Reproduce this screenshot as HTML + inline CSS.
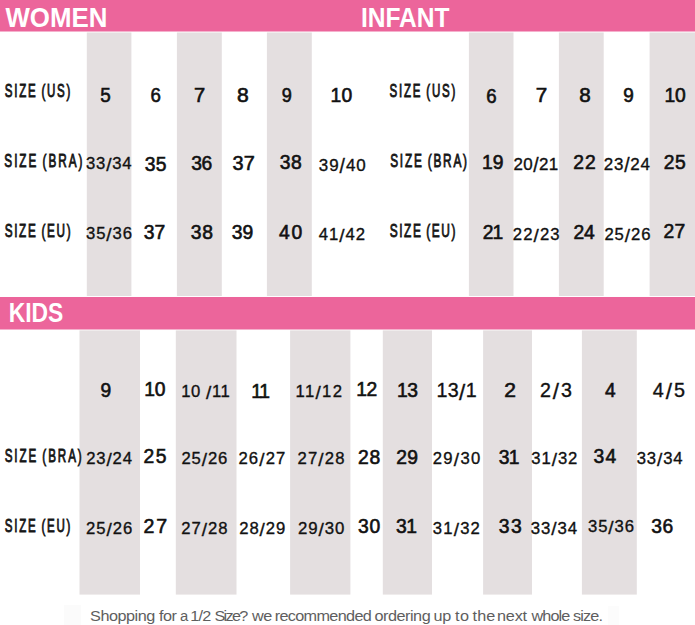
<!DOCTYPE html>
<html><head><meta charset="utf-8"><title>Size Chart</title>
<style>
html,body{margin:0;padding:0;background:#fff;width:695px;height:625px;overflow:hidden}
svg{display:block}
text{font-family:"Liberation Sans",Arial,sans-serif;white-space:pre}
.h{font-weight:bold;fill:#fff}
.l{fill:#161616;stroke:#161616;word-spacing:-1.5px}
.n{fill:#111;stroke:#111}
.f{fill:#5e5e5e}
</style></head><body>
<svg width="695" height="625" viewBox="0 0 695 625">
<rect x="0" y="0" width="695" height="31.5" fill="#ec659b"/>
<rect x="0" y="297" width="695" height="32.5" fill="#ec659b"/>
<rect x="86.8" y="32.5" width="44.6" height="263.5" fill="#e4dfe0"/>
<rect x="176.9" y="32.5" width="44.9" height="263.5" fill="#e4dfe0"/>
<rect x="266.9" y="32.5" width="44.9" height="263.5" fill="#e4dfe0"/>
<rect x="468.9" y="32.5" width="44.6" height="263.5" fill="#e4dfe0"/>
<rect x="558.9" y="32.5" width="44.8" height="263.5" fill="#e4dfe0"/>
<rect x="649.6" y="32.5" width="45.4" height="263.5" fill="#e4dfe0"/>
<rect x="79.5" y="330.4" width="60.5" height="264.2" fill="#e4dfe0"/>
<rect x="175.8" y="330.4" width="60.7" height="264.2" fill="#e4dfe0"/>
<rect x="290.1" y="330.4" width="60.3" height="264.2" fill="#e4dfe0"/>
<rect x="382.8" y="330.4" width="49.2" height="264.2" fill="#e4dfe0"/>
<rect x="483.1" y="330.4" width="48.9" height="264.2" fill="#e4dfe0"/>
<rect x="581.9" y="330.4" width="54.9" height="264.2" fill="#e4dfe0"/>
<rect x="64" y="605" width="17" height="20" fill="#fbfbfb"/>
<rect x="608" y="606" width="11" height="19" fill="#fcfcfc"/>
<text class="h" x="5.47" y="26.80" font-size="27.83" textLength="101.98" lengthAdjust="spacingAndGlyphs">WOMEN</text>
<text class="h" x="360.88" y="26.80" font-size="27.54" textLength="88.68" lengthAdjust="spacingAndGlyphs">INFANT</text>
<text class="h" x="8.70" y="322.00" font-size="27.54" textLength="54.68" lengthAdjust="spacingAndGlyphs">KIDS</text>
<text class="l" transform="matrix(0.66,0,0,1,4.84,97.12)" font-size="17.48" textLength="99.32" lengthAdjust="spacing" stroke-width="0.75" vector-effect="non-scaling-stroke">SIZE (US)</text>
<text class="l" transform="matrix(0.66,0,0,1,389.61,96.92)" font-size="17.48" textLength="99.55" lengthAdjust="spacing" stroke-width="0.75" vector-effect="non-scaling-stroke">SIZE (US)</text>
<text class="l" transform="matrix(0.66,0,0,1,4.35,166.93)" font-size="17.77" textLength="118.21" lengthAdjust="spacing" stroke-width="0.75" vector-effect="non-scaling-stroke">SIZE (BRA)</text>
<text class="l" transform="matrix(0.66,0,0,1,390.13,166.82)" font-size="17.91" textLength="116.55" lengthAdjust="spacing" stroke-width="0.75" vector-effect="non-scaling-stroke">SIZE (BRA)</text>
<text class="l" transform="matrix(0.66,0,0,1,4.65,236.93)" font-size="17.77" textLength="99.87" lengthAdjust="spacing" stroke-width="0.75" vector-effect="non-scaling-stroke">SIZE (EU)</text>
<text class="l" transform="matrix(0.66,0,0,1,389.72,236.93)" font-size="18.06" textLength="99.71" lengthAdjust="spacing" stroke-width="0.75" vector-effect="non-scaling-stroke">SIZE (EU)</text>
<text class="l" transform="matrix(0.66,0,0,1,4.65,461.52)" font-size="17.63" textLength="116.77" lengthAdjust="spacing" stroke-width="0.75" vector-effect="non-scaling-stroke">SIZE (BRA)</text>
<text class="l" transform="matrix(0.66,0,0,1,4.84,531.73)" font-size="17.48" textLength="99.32" lengthAdjust="spacing" stroke-width="0.75" vector-effect="non-scaling-stroke">SIZE (EU)</text>
<text class="n" x="100.26" y="102.10" font-size="19.43" textLength="10.51" lengthAdjust="spacingAndGlyphs" stroke-width="0.6">5</text>
<text class="n" x="150.52" y="101.80" font-size="19.43" textLength="10.40" lengthAdjust="spacingAndGlyphs" stroke-width="0.6">6</text>
<text class="n" x="194.14" y="102.20" font-size="19.29" textLength="11.18" lengthAdjust="spacingAndGlyphs" stroke-width="0.6">7</text>
<text class="n" x="237.00" y="101.80" font-size="19.43" textLength="11.74" lengthAdjust="spacingAndGlyphs" stroke-width="0.6">8</text>
<text class="n" x="281.72" y="101.76" font-size="19.29" textLength="10.07" lengthAdjust="spacingAndGlyphs" stroke-width="0.6">9</text>
<text class="n" x="330.38" y="101.62" font-size="19.29" textLength="21.95" lengthAdjust="spacing" stroke-width="0.6">10</text>
<text class="n" x="486.14" y="102.53" font-size="19.29" textLength="10.37" lengthAdjust="spacingAndGlyphs" stroke-width="0.6">6</text>
<text class="n" x="535.76" y="101.80" font-size="19.43" textLength="11.47" lengthAdjust="spacingAndGlyphs" stroke-width="0.6">7</text>
<text class="n" x="579.29" y="102.10" font-size="19.43" textLength="11.47" lengthAdjust="spacingAndGlyphs" stroke-width="0.6">8</text>
<text class="n" x="623.20" y="101.92" font-size="19.29" textLength="10.55" lengthAdjust="spacingAndGlyphs" stroke-width="0.6">9</text>
<text class="n" x="664.62" y="102.13" font-size="19.29" textLength="21.16" lengthAdjust="spacing" stroke-width="0.6">10</text>
<text class="n" x="86.08" y="168.75" font-size="16.67" textLength="45.40" lengthAdjust="spacing" stroke-width="0.35">33<tspan font-size="19.00" dy="1.92">/</tspan><tspan dy="-1.92">34</tspan></text>
<text class="n" x="144.77" y="170.58" font-size="19.29" textLength="21.64" lengthAdjust="spacing" stroke-width="0.6">35</text>
<text class="n" x="191.29" y="170.40" font-size="19.29" textLength="20.94" lengthAdjust="spacing" stroke-width="0.6">36</text>
<text class="n" x="232.53" y="169.70" font-size="19.86" textLength="22.28" lengthAdjust="spacing" stroke-width="0.6">37</text>
<text class="n" x="279.77" y="169.25" font-size="19.29" textLength="21.84" lengthAdjust="spacing" stroke-width="0.6">38</text>
<text class="n" x="318.82" y="170.62" font-size="16.95" textLength="46.87" lengthAdjust="spacing" stroke-width="0.35">39<tspan font-size="19.32" dy="1.95">/</tspan><tspan dy="-1.95">40</tspan></text>
<text class="n" x="481.92" y="169.49" font-size="19.29" textLength="21.63" lengthAdjust="spacing" stroke-width="0.6">19</text>
<text class="n" x="513.57" y="169.62" font-size="16.95" textLength="44.57" lengthAdjust="spacing" stroke-width="0.35">20<tspan font-size="19.32" dy="1.95">/</tspan><tspan dy="-1.95">21</tspan></text>
<text class="n" x="573.19" y="169.33" font-size="19.29" textLength="22.65" lengthAdjust="spacing" stroke-width="0.6">22</text>
<text class="n" x="603.81" y="169.62" font-size="16.95" textLength="46.07" lengthAdjust="spacing" stroke-width="0.35">23<tspan font-size="19.32" dy="1.95">/</tspan><tspan dy="-1.95">24</tspan></text>
<text class="n" x="663.66" y="169.33" font-size="19.29" textLength="22.19" lengthAdjust="spacing" stroke-width="0.6">25</text>
<text class="n" x="86.08" y="238.67" font-size="16.67" textLength="45.86" lengthAdjust="spacing" stroke-width="0.35">35<tspan font-size="19.00" dy="1.92">/</tspan><tspan dy="-1.92">36</tspan></text>
<text class="n" x="143.79" y="238.91" font-size="19.29" textLength="21.43" lengthAdjust="spacing" stroke-width="0.6">37</text>
<text class="n" x="190.77" y="239.46" font-size="19.29" textLength="22.13" lengthAdjust="spacing" stroke-width="0.6">38</text>
<text class="n" x="231.77" y="239.46" font-size="19.29" textLength="21.39" lengthAdjust="spacing" stroke-width="0.6">39</text>
<text class="n" x="278.96" y="239.23" font-size="19.29" textLength="23.37" lengthAdjust="spacing" stroke-width="0.6">40</text>
<text class="n" x="318.63" y="239.64" font-size="16.67" textLength="46.44" lengthAdjust="spacing" stroke-width="0.35">41<tspan font-size="19.00" dy="1.92">/</tspan><tspan dy="-1.92">42</tspan></text>
<text class="n" x="482.70" y="239.28" font-size="19.29" textLength="20.59" lengthAdjust="spacing" stroke-width="0.6">21</text>
<text class="n" x="512.76" y="239.72" font-size="16.67" textLength="46.77" lengthAdjust="spacing" stroke-width="0.35">22<tspan font-size="19.00" dy="1.92">/</tspan><tspan dy="-1.92">23</tspan></text>
<text class="n" x="573.42" y="239.18" font-size="19.29" textLength="21.28" lengthAdjust="spacing" stroke-width="0.6">24</text>
<text class="n" x="604.39" y="239.79" font-size="16.67" textLength="46.07" lengthAdjust="spacing" stroke-width="0.35">25<tspan font-size="19.00" dy="1.92">/</tspan><tspan dy="-1.92">26</tspan></text>
<text class="n" x="663.38" y="238.43" font-size="19.29" textLength="21.88" lengthAdjust="spacing" stroke-width="0.6">27</text>
<text class="n" x="100.41" y="397.01" font-size="19.29" textLength="10.69" lengthAdjust="spacingAndGlyphs" stroke-width="0.6">9</text>
<text class="n" x="144.20" y="396.42" font-size="19.29" textLength="21.32" lengthAdjust="spacing" stroke-width="0.6">10</text>
<text class="n" x="181.21" y="396.69" font-size="16.67" textLength="48.62" lengthAdjust="spacing" stroke-width="0.35">10 <tspan font-size="19.00" dy="1.92">/</tspan><tspan dy="-1.92">11</tspan></text>
<text class="n" x="251.21" y="398.12" font-size="19.29" textLength="18.81" lengthAdjust="spacing" stroke-width="0.6">11</text>
<text class="n" x="295.52" y="397.13" font-size="16.67" textLength="46.46" lengthAdjust="spacing" stroke-width="0.35">11<tspan font-size="19.00" dy="1.92">/</tspan><tspan dy="-1.92">12</tspan></text>
<text class="n" x="356.21" y="396.42" font-size="19.29" textLength="21.04" lengthAdjust="spacing" stroke-width="0.6">12</text>
<text class="n" x="396.88" y="397.29" font-size="19.29" textLength="21.22" lengthAdjust="spacing" stroke-width="0.6">13</text>
<text class="n" x="436.56" y="397.32" font-size="19.65" textLength="40.06" lengthAdjust="spacing" stroke-width="0.35">13<tspan font-size="22.40" dy="2.26">/</tspan><tspan dy="-2.26">1</tspan></text>
<text class="n" x="504.31" y="397.01" font-size="19.29" textLength="11.71" lengthAdjust="spacingAndGlyphs" stroke-width="0.6">2</text>
<text class="n" x="540.00" y="397.13" font-size="19.65" textLength="31.98" lengthAdjust="spacing" stroke-width="0.35">2<tspan font-size="22.40" dy="2.26">/</tspan><tspan dy="-2.26">3</tspan></text>
<text class="n" x="605.08" y="396.80" font-size="19.43" textLength="10.61" lengthAdjust="spacingAndGlyphs" stroke-width="0.6">4</text>
<text class="n" x="652.73" y="396.93" font-size="19.79" textLength="32.18" lengthAdjust="spacing" stroke-width="0.35">4<tspan font-size="22.56" dy="2.28">/</tspan><tspan dy="-2.28">5</tspan></text>
<text class="n" x="86.16" y="464.08" font-size="16.67" textLength="45.86" lengthAdjust="spacing" stroke-width="0.35">23<tspan font-size="19.00" dy="1.92">/</tspan><tspan dy="-1.92">24</tspan></text>
<text class="n" x="143.45" y="463.31" font-size="19.29" textLength="22.96" lengthAdjust="spacing" stroke-width="0.6">25</text>
<text class="n" x="181.40" y="464.23" font-size="16.67" textLength="45.93" lengthAdjust="spacing" stroke-width="0.35">25<tspan font-size="19.00" dy="1.92">/</tspan><tspan dy="-1.92">26</tspan></text>
<text class="n" x="238.39" y="464.07" font-size="16.67" textLength="46.93" lengthAdjust="spacing" stroke-width="0.35">26<tspan font-size="19.00" dy="1.92">/</tspan><tspan dy="-1.92">27</tspan></text>
<text class="n" x="297.61" y="464.07" font-size="16.67" textLength="46.80" lengthAdjust="spacing" stroke-width="0.35">27<tspan font-size="19.00" dy="1.92">/</tspan><tspan dy="-1.92">28</tspan></text>
<text class="n" x="357.89" y="463.92" font-size="19.29" textLength="22.41" lengthAdjust="spacing" stroke-width="0.6">28</text>
<text class="n" x="396.19" y="463.52" font-size="19.29" textLength="21.88" lengthAdjust="spacing" stroke-width="0.6">29</text>
<text class="n" x="432.81" y="464.07" font-size="16.67" textLength="47.35" lengthAdjust="spacing" stroke-width="0.35">29<tspan font-size="19.00" dy="1.92">/</tspan><tspan dy="-1.92">30</tspan></text>
<text class="n" x="498.78" y="463.80" font-size="19.29" textLength="20.65" lengthAdjust="spacing" stroke-width="0.6">31</text>
<text class="n" x="531.34" y="464.07" font-size="16.67" textLength="45.98" lengthAdjust="spacing" stroke-width="0.35">31<tspan font-size="19.00" dy="1.92">/</tspan><tspan dy="-1.92">32</tspan></text>
<text class="n" x="593.47" y="463.22" font-size="19.29" textLength="22.67" lengthAdjust="spacing" stroke-width="0.6">34</text>
<text class="n" x="636.66" y="464.07" font-size="16.67" textLength="45.98" lengthAdjust="spacing" stroke-width="0.35">33<tspan font-size="19.00" dy="1.92">/</tspan><tspan dy="-1.92">34</tspan></text>
<text class="n" x="85.89" y="533.58" font-size="16.67" textLength="46.44" lengthAdjust="spacing" stroke-width="0.35">25<tspan font-size="19.00" dy="1.92">/</tspan><tspan dy="-1.92">26</tspan></text>
<text class="n" x="143.61" y="532.70" font-size="19.57" textLength="23.44" lengthAdjust="spacing" stroke-width="0.6">27</text>
<text class="n" x="181.18" y="533.58" font-size="16.67" textLength="46.35" lengthAdjust="spacing" stroke-width="0.35">27<tspan font-size="19.00" dy="1.92">/</tspan><tspan dy="-1.92">28</tspan></text>
<text class="n" x="239.17" y="533.58" font-size="16.67" textLength="46.15" lengthAdjust="spacing" stroke-width="0.35">28<tspan font-size="19.00" dy="1.92">/</tspan><tspan dy="-1.92">29</tspan></text>
<text class="n" x="297.88" y="534.03" font-size="16.81" textLength="46.43" lengthAdjust="spacing" stroke-width="0.35">29<tspan font-size="19.16" dy="1.93">/</tspan><tspan dy="-1.93">30</tspan></text>
<text class="n" x="358.08" y="532.64" font-size="19.29" textLength="22.05" lengthAdjust="spacing" stroke-width="0.6">30</text>
<text class="n" x="396.04" y="533.07" font-size="19.29" textLength="20.98" lengthAdjust="spacing" stroke-width="0.6">31</text>
<text class="n" x="432.66" y="533.58" font-size="16.67" textLength="47.22" lengthAdjust="spacing" stroke-width="0.35">31<tspan font-size="19.00" dy="1.92">/</tspan><tspan dy="-1.92">32</tspan></text>
<text class="n" x="498.78" y="533.42" font-size="19.29" textLength="23.03" lengthAdjust="spacing" stroke-width="0.6">33</text>
<text class="n" x="530.80" y="533.53" font-size="16.81" textLength="46.39" lengthAdjust="spacing" stroke-width="0.35">33<tspan font-size="19.16" dy="1.93">/</tspan><tspan dy="-1.93">34</tspan></text>
<text class="n" x="587.96" y="531.97" font-size="16.67" textLength="46.09" lengthAdjust="spacing" stroke-width="0.35">35<tspan font-size="19.00" dy="1.92">/</tspan><tspan dy="-1.92">36</tspan></text>
<text class="n" x="651.32" y="533.42" font-size="19.29" textLength="21.79" lengthAdjust="spacing" stroke-width="0.6">36</text>
<text class="f" transform="matrix(1.12,0,0,1,90.10,620.60)" font-size="14.50" textLength="58.17" lengthAdjust="spacing" vector-effect="non-scaling-stroke">Shopping</text>
<text class="f" transform="matrix(1.12,0,0,1,159.08,620.60)" font-size="14.50" textLength="15.95" lengthAdjust="spacing" vector-effect="non-scaling-stroke">for</text>
<text class="f" transform="matrix(1.12,0,0,1,180.05,620.60)" font-size="14.50" textLength="7.38" lengthAdjust="spacingAndGlyphs" vector-effect="non-scaling-stroke">a</text>
<text class="f" transform="matrix(1.12,0,0,1,190.24,620.60)" font-size="14.50" textLength="18.85" lengthAdjust="spacing" vector-effect="non-scaling-stroke">1/2</text>
<text class="f" transform="matrix(1.12,0,0,1,214.44,620.60)" font-size="14.50" textLength="30.20" lengthAdjust="spacing" vector-effect="non-scaling-stroke">Size?</text>
<text class="f" transform="matrix(1.12,0,0,1,251.90,620.60)" font-size="14.50" textLength="18.19" lengthAdjust="spacing" vector-effect="non-scaling-stroke">we</text>
<text class="f" transform="matrix(1.12,0,0,1,274.69,620.60)" font-size="14.50" textLength="86.69" lengthAdjust="spacing" vector-effect="non-scaling-stroke">recommended</text>
<text class="f" transform="matrix(1.12,0,0,1,374.44,620.60)" font-size="14.50" textLength="50.20" lengthAdjust="spacing" vector-effect="non-scaling-stroke">ordering</text>
<text class="f" transform="matrix(1.12,0,0,1,433.60,620.60)" font-size="14.50" textLength="15.71" lengthAdjust="spacing" vector-effect="non-scaling-stroke">up</text>
<text class="f" transform="matrix(1.12,0,0,1,454.98,620.60)" font-size="14.50" textLength="12.57" lengthAdjust="spacing" vector-effect="non-scaling-stroke">to</text>
<text class="f" transform="matrix(1.12,0,0,1,472.61,620.60)" font-size="14.50" textLength="20.20" lengthAdjust="spacing" vector-effect="non-scaling-stroke">the</text>
<text class="f" transform="matrix(1.12,0,0,1,497.02,620.60)" font-size="14.50" textLength="26.84" lengthAdjust="spacing" vector-effect="non-scaling-stroke">next</text>
<text class="f" transform="matrix(1.12,0,0,1,531.59,620.60)" font-size="14.50" textLength="34.49" lengthAdjust="spacing" vector-effect="non-scaling-stroke">whole</text>
<text class="f" transform="matrix(1.12,0,0,1,573.01,620.60)" font-size="14.50" textLength="26.85" lengthAdjust="spacing" vector-effect="non-scaling-stroke">size.</text>
</svg>
</body></html>
